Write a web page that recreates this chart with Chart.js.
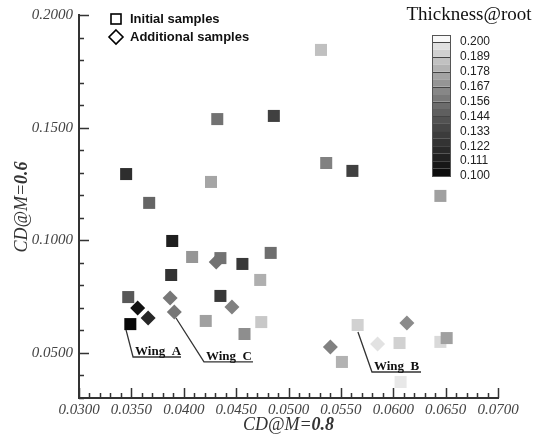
<!DOCTYPE html>
<html>
<head>
<meta charset="utf-8">
<script src="https://cdn.jsdelivr.net/npm/chart.js@4.4.0/dist/chart.umd.min.js"></script>
<style>
  body { margin: 0; background: #fff; }
  #wrap { width: 539px; height: 434px; }
</style>
</head>
<body>
<div id="wrap"><canvas id="cdChart" width="539" height="434"></canvas></div>
<script>
// CD at M=0.8 (x), CD at M=0.6 (y), root thickness (shade)
const initialCD08 = [0.0345, 0.0367, 0.0389, 0.0388, 0.0408, 0.0426, 0.0435, 0.0456, 0.0483, 0.0473,
                     0.0435, 0.0347, 0.0349, 0.0421, 0.0458, 0.0474, 0.0432, 0.0486, 0.0531, 0.0536,
                     0.0561, 0.0645, 0.0566, 0.0551, 0.0606, 0.0607, 0.0645, 0.0651];
const initialCD06 = [0.1294, 0.1166, 0.0997, 0.0846, 0.0926, 0.1259, 0.0921, 0.0895, 0.0944, 0.0824,
                     0.0753, 0.0748, 0.0628, 0.0642, 0.0584, 0.0637, 0.1538, 0.1552, 0.1845, 0.1343,
                     0.1308, 0.1197, 0.0624, 0.0460, 0.0544, 0.0371, 0.0549, 0.0566];
const initialThick = [0.122, 0.150, 0.113, 0.125, 0.170, 0.176, 0.156, 0.128, 0.154, 0.180,
                      0.128, 0.144, 0.100, 0.174, 0.167, 0.189, 0.156, 0.133, 0.186, 0.162,
                      0.133, 0.174, 0.192, 0.181, 0.192, 0.200, 0.195, 0.174];

const addCD08 = [0.0356, 0.0366, 0.0387, 0.0391, 0.0431, 0.0446, 0.0540, 0.0585, 0.0613];
const addCD06 = [0.0699, 0.0655, 0.0744, 0.0682, 0.0904, 0.0704, 0.0526, 0.0540, 0.0633];
const addThick = [0.105, 0.118, 0.158, 0.158, 0.156, 0.162, 0.162, 0.198, 0.166];

const xTicks = [0.030, 0.035, 0.040, 0.045, 0.050, 0.055, 0.060, 0.065, 0.070];
const yTicks = [0.05, 0.10, 0.15, 0.20];
const thickLevels = [0.100, 0.111, 0.122, 0.133, 0.144, 0.156, 0.167, 0.178, 0.189, 0.200];

// callouts: from a sample to the start of the underlined name
const wingNames = ['Wing  A', 'Wing  C', 'Wing  B'];
const wingFrom = [[0.03449, 0.0602], [0.03926, 0.0655], [0.05663, 0.0593]];
const wingTo = [[0.03516, 0.0482], [0.04193, 0.0460], [0.05797, 0.04154]];
const wingLineEnd = [0.03974, 0.04661, 0.06265];

const grayStops = [8, 28, 46, 64, 88, 114, 142, 170, 200, 232];

function thickGray(t) {
  if (t <= thickLevels[0]) return `rgb(${grayStops[0]},${grayStops[0]},${grayStops[0]})`;
  for (let i = 1; i < thickLevels.length; i++) {
    if (t <= thickLevels[i]) {
      const f = (t - thickLevels[i - 1]) / (thickLevels[i] - thickLevels[i - 1]);
      const g = Math.round(grayStops[i - 1] + f * (grayStops[i] - grayStops[i - 1]));
      return `rgb(${g},${g},${g})`;
    }
  }
  return 'rgb(240,240,240)';
}

const SERIF = '"Liberation Serif", "DejaVu Serif", serif';
const SANS = '"Liberation Sans", Arial, sans-serif';

// draws a title made of an italic part and a bold italic part, centred on (cx, cy)
function mixedTitle(ctx, cx, cy, plain, bold, rot) {
  ctx.save();
  ctx.translate(cx, cy);
  ctx.rotate(rot);
  ctx.fillStyle = '#333';
  ctx.textBaseline = 'middle';
  ctx.font = 'italic 18px ' + SERIF;
  const w1 = ctx.measureText(plain).width;
  ctx.font = 'italic bold 18px ' + SERIF;
  const w2 = ctx.measureText(bold).width;
  let x = -(w1 + w2) / 2;
  ctx.font = 'italic 18px ' + SERIF;
  ctx.textAlign = 'left';
  ctx.fillText(plain, x, 0);
  ctx.font = 'italic bold 18px ' + SERIF;
  ctx.fillText(bold, x + w1, 0);
  ctx.restore();
}

const decorations = {
  id: 'decorations',
  afterDatasetsDraw(chart) {
    const { ctx, chartArea } = chart;
    const xs = chart.scales.x, ys = chart.scales.y;

    // inward major and minor ticks
    ctx.save();
    ctx.strokeStyle = '#333';
    ctx.lineWidth = 1.5;
    ctx.beginPath();
    for (let i = 0; i <= 40; i++) {
      const px = Math.round(xs.getPixelForValue(0.03 + i * 0.001)) + 0.5;
      const len = i % 5 === 0 ? 10 : 5;
      ctx.moveTo(px, chartArea.bottom);
      ctx.lineTo(px, chartArea.bottom - len);
    }
    for (let i = 0; i <= 17; i++) {
      const py = Math.round(ys.getPixelForValue(0.03 + i * 0.01)) + 0.5;
      const len = (i + 3) % 5 === 0 ? 10 : 5;
      ctx.moveTo(chartArea.left, py);
      ctx.lineTo(chartArea.left + len, py);
    }
    ctx.stroke();

    // wing callouts
    ctx.strokeStyle = '#333';
    ctx.lineWidth = 1.3;
    ctx.fillStyle = '#111';
    ctx.font = 'bold 13px ' + SERIF;
    ctx.textAlign = 'left';
    ctx.textBaseline = 'alphabetic';
    wingNames.forEach((name, i) => {
      const x0 = xs.getPixelForValue(wingFrom[i][0]);
      const y0 = ys.getPixelForValue(wingFrom[i][1]);
      const x1 = xs.getPixelForValue(wingTo[i][0]);
      const y1 = ys.getPixelForValue(wingTo[i][1]);
      const x2 = xs.getPixelForValue(wingLineEnd[i]);
      ctx.beginPath();
      ctx.moveTo(x0, y0);
      ctx.lineTo(x1, y1);
      ctx.lineTo(x2, y1);
      ctx.stroke();
      ctx.fillText(name, x1 + 2, y1 - 2);
    });

    // legend
    ctx.strokeStyle = '#000';
    ctx.lineWidth = 1.6;
    ctx.strokeRect(111, 14, 10, 10);
    ctx.beginPath();
    ctx.moveTo(116, 30); ctx.lineTo(123, 37); ctx.lineTo(116, 44); ctx.lineTo(109, 37);
    ctx.closePath();
    ctx.stroke();
    ctx.fillStyle = '#111';
    ctx.font = 'bold 13px ' + SANS;
    ctx.textBaseline = 'middle';
    ctx.fillText('Initial samples', 130, 19);
    ctx.fillText('Additional samples', 130, 37);

    // thickness colour bar
    const bx = 432, bw = 19, bTop = 35, y200 = 42, y100 = 176;
    const step = (y100 - y200) / (thickLevels.length - 1);
    ctx.fillStyle = '#f8f8f8';
    ctx.fillRect(bx, bTop, bw, y200 - bTop);
    for (let i = 0; i < thickLevels.length - 1; i++) {
      const lo = thickLevels[i], hi = thickLevels[i + 1];
      const yLo = y100 - i * step;
      ctx.fillStyle = thickGray(lo + (hi - lo) * 0.25);
      ctx.fillRect(bx, yLo - step / 2, bw, step / 2);
      ctx.fillStyle = thickGray(lo + (hi - lo) * 0.75);
      ctx.fillRect(bx, yLo - step, bw, step / 2);
    }
    ctx.strokeStyle = '#444';
    ctx.lineWidth = 1;
    ctx.beginPath();
    for (let i = 1; i < thickLevels.length; i++) {
      const yy = Math.round(y100 - i * step) + 0.5;
      ctx.moveTo(bx, yy);
      ctx.lineTo(bx + bw, yy);
    }
    ctx.stroke();
    ctx.strokeStyle = '#555';
    ctx.strokeRect(bx + 0.5, bTop + 0.5, bw - 1, y100 - bTop);
    ctx.fillStyle = '#222';
    ctx.font = '12px ' + SANS;
    ctx.textAlign = 'left';
    ctx.textBaseline = 'middle';
    thickLevels.forEach((t, i) => {
      ctx.fillText(t.toFixed(3), 460, y100 - i * step);
    });
    ctx.fillStyle = '#111';
    ctx.font = '19px ' + SERIF;
    ctx.textAlign = 'center';
    ctx.fillText('Thickness@root', 469, 15);
    ctx.restore();

    // axis titles
    mixedTitle(ctx, (chartArea.left + chartArea.right) / 2, 425, 'CD@M=', '0.8', 0);
    mixedTitle(ctx, 22, 207, 'CD@M=', '0.6', -Math.PI / 2);
  }
};

const tickFont = { family: SERIF, size: 15, style: 'italic' };

new Chart(document.getElementById('cdChart').getContext('2d'), {
  type: 'scatter',
  data: {
    datasets: [
      {
        label: 'Additional samples',
        data: addCD08.map((x, i) => ({ x, y: addCD06[i] })),
        pointStyle: 'rectRot',
        pointRadius: 7.5,
        backgroundColor: addThick.map(thickGray),
        borderWidth: 0,
        order: 0
      },
      {
        label: 'Initial samples',
        data: initialCD08.map((x, i) => ({ x, y: initialCD06[i] })),
        pointStyle: 'rect',
        pointRadius: 8.5,
        backgroundColor: initialThick.map(thickGray),
        borderWidth: 0,
        order: 1
      }
    ]
  },
  options: {
    responsive: false,
    animation: false,
    devicePixelRatio: 1,
    layout: { padding: { top: 15, right: 41, left: 0, bottom: 0 } },
    plugins: { legend: { display: false }, tooltip: { enabled: false } },
    scales: {
      x: {
        type: 'linear',
        min: 0.03,
        max: 0.07,
        afterBuildTicks: s => { s.ticks = xTicks.map(v => ({ value: v })); },
        afterFit: s => { s.height = 36; },
        ticks: { callback: v => v.toFixed(4), font: tickFont, color: '#444', padding: 3, maxRotation: 0, autoSkip: false },
        grid: { display: false, drawTicks: false },
        border: { display: true, color: '#333', width: 2 }
      },
      y: {
        type: 'linear',
        min: 0.03,
        max: 0.2,
        afterBuildTicks: s => { s.ticks = yTicks.map(v => ({ value: v })); },
        afterFit: s => { s.width = 79; },
        ticks: { callback: v => v.toFixed(4), font: tickFont, color: '#444', padding: 6, autoSkip: false },
        grid: { display: false, drawTicks: false },
        border: { display: true, color: '#333', width: 2 }
      }
    }
  },
  plugins: [decorations]
});
</script>
</body>
</html>
